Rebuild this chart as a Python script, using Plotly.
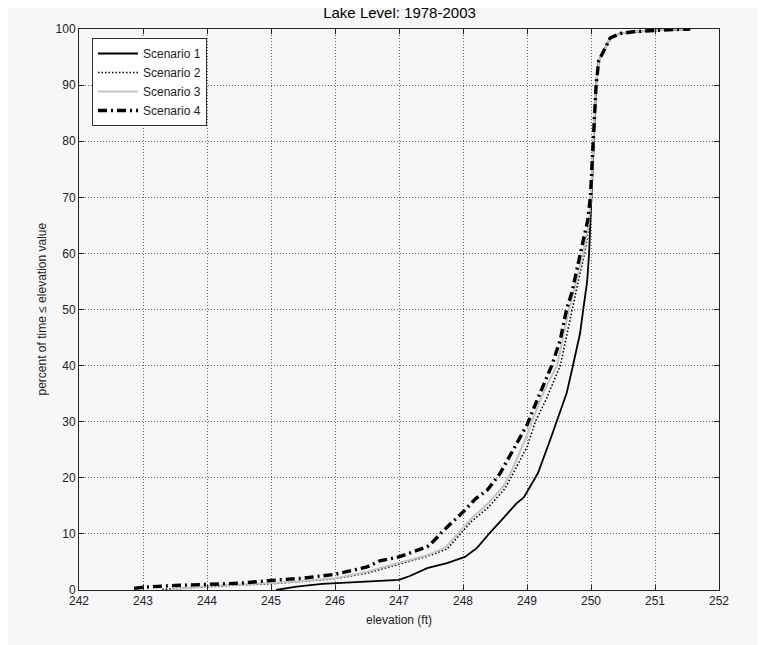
import plotly.graph_objects as go

# Scenario 1 (solid black)
s1_x = [245.08, 245.4, 245.8, 246.0, 246.5, 247.0, 247.17, 247.44, 247.75, 248.03, 248.22, 248.42,
        248.63, 248.84, 248.95, 249.05, 249.17, 249.36, 249.47, 249.62, 249.72, 249.83, 249.88, 249.94,
        249.97, 250.01, 250.04, 250.08, 250.12, 250.2, 250.3, 250.46, 250.66, 251.08, 251.55]
s1_y = [0, 0.6, 1.1, 1.2, 1.5, 1.8, 2.5, 3.9, 4.8, 5.9, 7.5, 10.2,
        12.8, 15.5, 16.5, 18.4, 20.8, 26.7, 30.1, 35.1, 40.1, 45.8, 50.1, 55.0,
        60, 70, 80, 90, 94.3, 96.1, 98.4, 99.2, 99.5, 99.8, 100]

# Scenario 2 (dotted)
s2_x = [243.3, 244.0, 244.5, 245.0, 245.5, 246.0, 246.5, 247.0, 247.44, 247.75, 248.03, 248.13,
        248.4, 248.65, 248.77, 249.0, 249.13, 249.3, 249.52, 249.70, 249.8, 249.9, 249.97, 250.01,
        250.04, 250.08, 250.12, 250.2, 250.3, 250.46, 250.66, 251.08, 251.55]
s2_y = [0.1, 0.6, 0.9, 1.1, 1.5, 2.0, 3.0, 4.6, 6.0, 7.3, 10.8, 12.2,
        14.8, 18.0, 20.5, 25.5, 30.0, 34.0, 40.0, 50.0, 55.0, 60, 65, 70,
        80, 90, 94.3, 96.1, 98.4, 99.2, 99.5, 99.8, 100]

# Scenario 3 (light gray solid)
s3_x = [243.45, 244.0, 244.5, 245.0, 245.5, 246.0, 246.5, 246.7, 247.0, 247.44, 247.72, 248.0,
        248.11, 248.4, 248.63, 248.75, 248.97, 249.08, 249.25, 249.47, 249.66, 249.77, 249.88, 249.96,
        250.0, 250.04, 250.08, 250.12, 250.2, 250.3, 250.46, 250.66, 251.08, 251.55]
s3_y = [0.1, 0.7, 1.0, 1.2, 1.6, 2.1, 3.2, 3.9, 4.8, 6.2, 7.5, 11.1,
        12.5, 15.5, 18.5, 21.0, 26.7, 30.1, 35.0, 40.1, 50.1, 55.0, 60, 65,
        70, 80, 90, 94.3, 96.1, 98.4, 99.2, 99.5, 99.8, 100]

# Scenario 4 (thick dash-dot)
s4_x = [242.86, 243.0, 243.5, 244.0, 244.5, 245.0, 245.5, 246.0, 246.5, 246.7, 247.0, 247.44,
        247.53, 247.75, 248.0, 248.2, 248.38, 248.58, 248.84, 249.0, 249.16, 249.39, 249.52, 249.62,
        249.70, 249.8, 249.88, 249.95, 249.99, 250.03, 250.08, 250.12, 250.2, 250.3, 250.46, 250.66,
        251.08, 251.55]
s4_y = [0.3, 0.5, 0.8, 1.0, 1.2, 1.7, 2.1, 2.8, 4.1, 5.2, 5.9, 7.7,
        8.6, 11.2, 13.9, 16.3, 17.8, 20.8, 26.2, 29.4, 33.9, 40.1, 44.6, 50.1,
        53.0, 58.0, 62.0, 66.0, 70, 80, 90, 94.3, 96.1, 98.4, 99.2, 99.5,
        99.8, 100]

x_ticks = [242, 243, 244, 245, 246, 247, 248, 249, 250, 251, 252]
y_ticks = [0, 10, 20, 30, 40, 50, 60, 70, 80, 90, 100]

FONT = "Liberation Sans, Arial, sans-serif"
BG = "#f7f7f7"
TXT = "#222222"

fig = go.Figure()
fig.add_trace(go.Scatter(x=s1_x, y=s1_y, mode="lines", name="Scenario 1",
                         line=dict(color="black", width=1.8)))
fig.add_trace(go.Scatter(x=s2_x, y=s2_y, mode="lines", name="Scenario 2",
                         line=dict(color="black", width=1.6, dash="1.5px,2px")))
fig.add_trace(go.Scatter(x=s3_x, y=s3_y, mode="lines", name="Scenario 3",
                         line=dict(color="#c4c4c4", width=2)))
fig.add_trace(go.Scatter(x=s4_x, y=s4_y, mode="lines", name="Scenario 4",
                         line=dict(color="black", width=3.4, dash="9px,4px,2px,4px")))

axis_common = dict(
    showline=True, linecolor=TXT, linewidth=1, mirror="ticks",
    ticks="inside", ticklen=5, tickcolor=TXT,
    showgrid=True, gridcolor="#666666", griddash="1px,2px", gridwidth=1,
    zeroline=False, automargin=False,
    tickfont=dict(family=FONT, size=12, color=TXT),
)

L, R, T, B = 71, 54, 21, 63
plot_w = 765 - L - R
plot_h = 645 - T - B

fig.update_layout(
    width=765, height=645,
    paper_bgcolor=BG, plot_bgcolor=BG,
    margin=dict(l=L, r=R, t=T, b=B),
    title=dict(text="Lake Level: 1978-2003", x=391.5 / 765, xanchor="center",
               y=1 - 5 / 645, yanchor="middle",
               font=dict(family=FONT, size=15, color="black")),
    xaxis=dict(range=[242, 252], tickvals=x_ticks, ticktext=[str(v) for v in x_ticks],
               **axis_common),
    yaxis=dict(range=[0, 100], tickvals=y_ticks, ticktext=[str(v) for v in y_ticks],
               **axis_common),
    legend=dict(x=13 / plot_w, y=1 - 9 / plot_h, xanchor="left", yanchor="top",
                bgcolor="white", bordercolor="#333333", borderwidth=1,
                font=dict(family=FONT, size=12, color=TXT),
                tracegroupgap=0, itemwidth=40,
                entrywidth=125, entrywidthmode="pixels"),
    showlegend=True,
    annotations=[
        dict(text="elevation (ft)", xref="paper", yref="paper",
             x=0.5, y=-30 / plot_h, xanchor="center", yanchor="middle",
             showarrow=False, font=dict(family=FONT, size=12, color=TXT)),
        dict(text="percent of time \u2264 elevation value", xref="paper", yref="paper",
             x=-38 / plot_w, y=0.5, xanchor="center", yanchor="middle", textangle=-90,
             showarrow=False, font=dict(family=FONT, size=12, color=TXT)),
    ],
)

fig.write_html("out.html")
